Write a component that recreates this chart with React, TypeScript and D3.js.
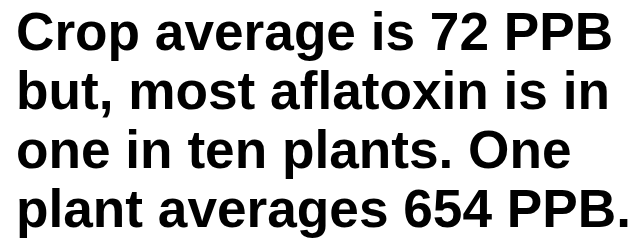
import React, { useEffect, useRef } from 'react';
import * as d3 from 'd3';

// text lines of the caption
const lines: string[] = [
  'Crop average is 72 PPB',
  'but, most aflatoxin is in',
  'one in ten plants. One',
  'plant averages 654 PPB.',
];

export default function App() {
  const svgRef = useRef<SVGSVGElement>(null);

  useEffect(() => {
    if (!svgRef.current) return;
    const width = 636;
    const height = 251;

    const svg = d3.select(svgRef.current);
    svg.selectAll('*').remove();
    svg.attr('width', width).attr('height', height);

    svg.append('rect')
      .attr('width', width)
      .attr('height', height)
      .attr('fill', '#ffffff');

    // baseline position for each line
    const y = d3.scalePoint<number>()
      .domain(d3.range(lines.length))
      .range([50, 227]);

    svg.selectAll('text.line')
      .data(lines)
      .join('text')
      .attr('class', 'line')
      .attr('x', 16)
      .attr('y', (_, i) => y(i) ?? 0)
      .attr('font-family', '"Liberation Sans", Arial, sans-serif')
      .attr('font-weight', 'bold')
      .attr('font-size', 53.2)
      .attr('fill', '#000000')
      .text(d => d);
  }, []);

  return <svg ref={svgRef} style={{ position: 'absolute', left: 0, top: 0 }} />;
}
